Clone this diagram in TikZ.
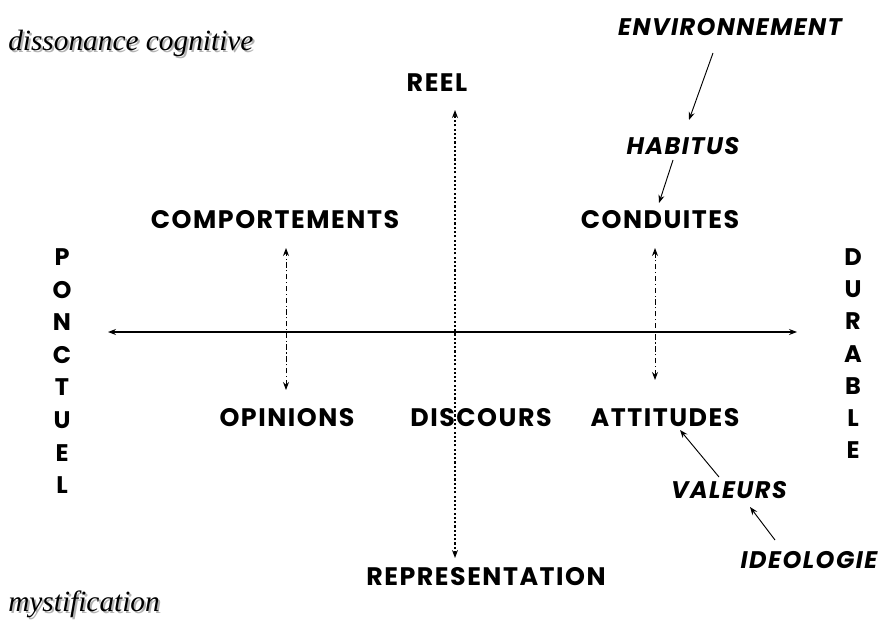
\documentclass[tikz,border=0pt]{standalone}
\usepackage{fontspec}
\setmainfont{Poppins}
\newfontfamily\serifit{Liberation Serif}
\usetikzlibrary{arrows.meta}
\newcommand\lblfont{\fontsize{19}{22}\selectfont\bfseries\addfontfeatures{LetterSpace=6}}
\newcommand\ilblfont{\fontsize{18}{22}\selectfont\bfseries\itshape\addfontfeatures{LetterSpace=6}}
\begin{document}
\begin{tikzpicture}[x=0.75pt,y=-0.75pt,
  lbl/.style={font=\lblfont, inner sep=0pt},
  ilbl/.style={font=\ilblfont, inner sep=0pt},
  letter/.style={font=\fontsize{18}{20}\selectfont\bfseries, inner sep=0pt},
  corner/.style={font=\fontsize{22}{26}\selectfont\serifit\itshape, inner sep=0pt, anchor=west},
  shadow/.style={corner, text=black!30},
  tip/.style={-{Stealth[length=6pt,width=4.5pt]}},
  dtip/.style={{Stealth[length=6pt,width=4.5pt]}-{Stealth[length=6pt,width=4.5pt]}},
  axis/.style={dtip, line width=0.8pt},
  vaxis/.style={dtip, line width=1.6pt, dash pattern=on 1.6pt off 1.6pt},
  ddot/.style={dtip, line width=0.7pt, dash pattern=on 4pt off 2pt on 0.8pt off 2pt},
  link/.style={tip, line width=0.7pt}]
\useasboundingbox (0,0) rectangle (881,621);
\fill[white] (0,0) rectangle (881,621);
% corner texts with shadow
\node[shadow] at (10,45) {dissonance cognitive};
\node[corner] (diss) at (8,43) {dissonance cognitive};
\node[shadow] at (10,606) {mystification};
\node[corner] (myst) at (8,604) {mystification};
% axis labels
\node[lbl] (reel) at (437,83) {REEL};
\node[lbl] (repr) at (486,577) {REPRESENTATION};
% PONCTUEL / DURABLE
\foreach \c [count=\i] in {P,O,N,C,T,U,E,L}
  \node[letter] (p\i) at (62,{257+32.6*(\i-1)}) {\c};
\foreach \c [count=\i] in {D,U,R,A,B,L,E}
  \node[letter] (d\i) at (853,{257+32.2*(\i-1)}) {\c};
% main labels
\node[lbl] (comp) at (275,220) {COMPORTEMENTS};
\node[lbl] (cond) at (660,220) {CONDUITES};
\node[lbl] (opin) at (287,418) {OPINIONS};
\node[lbl] (disc) at (481,418) {DISCOURS};
\node[lbl] (att) at (665,418) {ATTITUDES};
% italic labels
\node[ilbl] (env) at (730,27) {ENVIRONNEMENT};
\node[ilbl] (hab) at (683,146) {HABITUS};
\node[ilbl] (val) at (729,490) {VALEURS};
\node[ilbl] (ideo) at (809,560) {IDEOLOGIE};
% axes
\coordinate (vtop) at (455,110);
\coordinate (vbot) at (455,558);
\draw[vaxis] (vbot) -- (vtop);
\coordinate (hl) at (108,332);
\coordinate (hr) at (797,332);
\draw[axis] (hl) -- (hr);
% dash-dot links
\coordinate (lt) at (286,248);
\coordinate (lb) at (286,390);
\draw[ddot] (lb) -- (lt);
\coordinate (rt) at (655,248);
\coordinate (rb) at (655,380);
\draw[ddot] (rb) -- (rt);
% influence arrows
\coordinate (e1) at (713,53);
\coordinate (h1) at (689,120);
\draw[link] (e1) -- (h1);
\coordinate (h2) at (673,160);
\coordinate (c1) at (659,203);
\draw[link] (h2) -- (c1);
\coordinate (v1) at (719,477);
\coordinate (a1) at (680,430);
\draw[link] (v1) -- (a1);
\coordinate (i1) at (775,540);
\coordinate (v2) at (750,507);
\draw[link] (i1) -- (v2);
\end{tikzpicture}
\end{document}
